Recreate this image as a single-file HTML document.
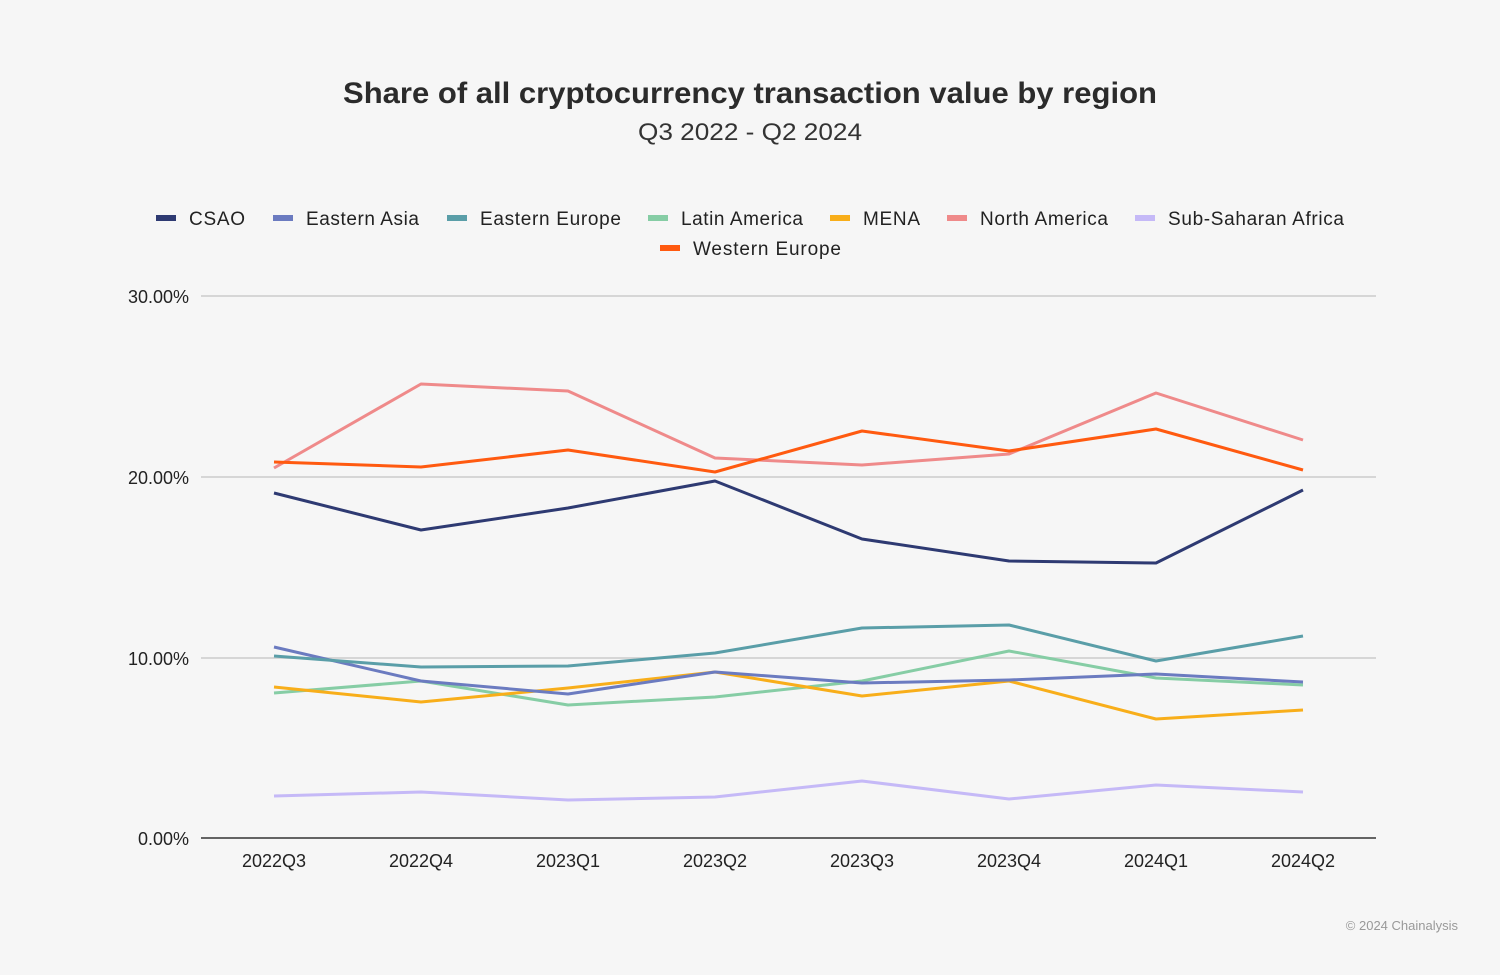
<!DOCTYPE html>
<html><head><meta charset="utf-8"><style>
body{margin:0;background:#f6f6f6;}
svg{display:block;font-family:"Liberation Sans",sans-serif;}
</style></head><body>
<svg width="1500" height="975" viewBox="0 0 1500 975">
<rect width="1500" height="975" fill="#f6f6f6"/>
<text x="343" y="103" textLength="814" lengthAdjust="spacingAndGlyphs" font-size="30" font-weight="bold" fill="#2b2b2b">Share of all cryptocurrency transaction value by region</text>
<text x="638" y="140" textLength="224" lengthAdjust="spacingAndGlyphs" font-size="24" fill="#333">Q3 2022 - Q2 2024</text>
<g font-size="19" fill="#222">
<rect x="156" y="215" width="20" height="6" fill="#2e3a72"/><text x="189" y="225" textLength="56">CSAO</text>
<rect x="273" y="215" width="20" height="6" fill="#6b7bc0"/><text x="306" y="225" textLength="113">Eastern Asia</text>
<rect x="447" y="215" width="20" height="6" fill="#5a9ea8"/><text x="480" y="225" textLength="141">Eastern Europe</text>
<rect x="648" y="215" width="20" height="6" fill="#86cda5"/><text x="681" y="225" textLength="122">Latin America</text>
<rect x="830" y="215" width="20" height="6" fill="#f8ae1a"/><text x="863" y="225" textLength="57">MENA</text>
<rect x="947" y="215" width="20" height="6" fill="#ef8a8a"/><text x="980" y="225" textLength="128">North America</text>
<rect x="1135" y="215" width="20" height="6" fill="#c5b9f7"/><text x="1168" y="225" textLength="176">Sub-Saharan Africa</text>
<rect x="660" y="245" width="20" height="6" fill="#ff5a10"/><text x="693" y="255" textLength="148">Western Europe</text>
</g>
<g stroke="#d6d6d6" stroke-width="2">
<line x1="201" y1="296" x2="1376" y2="296"/><line x1="201" y1="477" x2="1376" y2="477"/><line x1="201" y1="658" x2="1376" y2="658"/>
</g>
<line x1="201" y1="838" x2="1376" y2="838" stroke="#333" stroke-width="1.5"/>
<g font-size="18" fill="#222" text-anchor="end">
<text x="189" y="303">30.00%</text><text x="189" y="484">20.00%</text><text x="189" y="665">10.00%</text><text x="189" y="845">0.00%</text>
</g>
<g font-size="18" fill="#222" text-anchor="middle">
<text x="274" y="867">2022Q3</text><text x="421" y="867">2022Q4</text><text x="568" y="867">2023Q1</text><text x="715" y="867">2023Q2</text><text x="862" y="867">2023Q3</text><text x="1009" y="867">2023Q4</text><text x="1156" y="867">2024Q1</text><text x="1303" y="867">2024Q2</text>
</g>
<g fill="none" stroke-width="3" stroke-linejoin="round">
<polyline stroke="#c5b9f7" points="274,796 421,792 568,800 715,797 862,781 1009,799 1156,785 1303,792"/>
<polyline stroke="#86cda5" points="274,693 421,681 568,705 715,697 862,681 1009,651 1156,678 1303,685"/>
<polyline stroke="#f8ae1a" points="274,687 421,702 568,688 715,672 862,696 1009,681 1156,719 1303,710"/>
<polyline stroke="#6b7bc0" points="274,647 421,681 568,694 715,672 862,683 1009,680 1156,674 1303,682"/>
<polyline stroke="#5a9ea8" points="274,656 421,667 568,666 715,653 862,628 1009,625 1156,661 1303,636"/>
<polyline stroke="#2e3a72" points="274,493 421,530 568,508 715,481 862,539 1009,561 1156,563 1303,490"/>
<polyline stroke="#ef8a8a" points="274,468 421,384 568,391 715,458 862,465 1009,454 1156,393 1303,440"/>
<polyline stroke="#ff5a10" points="274,462 421,467 568,450 715,472 862,431 1009,451 1156,429 1303,470"/>
</g>
<text x="1458" y="930" text-anchor="end" font-size="13" fill="#999">© 2024 Chainalysis</text>
</svg>
</body></html>
